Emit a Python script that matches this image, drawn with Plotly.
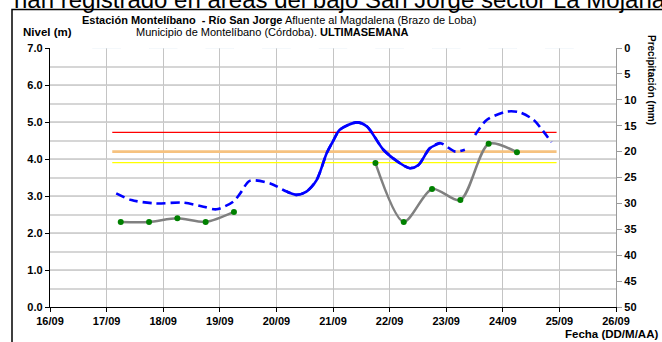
import plotly.graph_objects as go

# ---- data ----
day_ticks = [16, 17, 18, 19, 20, 21, 22, 23, 24, 25, 26]
day_labels = ["16/09", "17/09", "18/09", "19/09", "20/09", "21/09", "22/09",
              "23/09", "24/09", "25/09", "26/09"]

level_x = [17.17, 17.44, 17.86, 18.36, 18.71, 18.94, 19.24, 19.36, 19.53, 19.89,
           20.18, 20.36, 20.53, 20.71, 20.89, 21.0, 21.12, 21.42, 21.6, 21.89,
           22.18, 22.36, 22.51, 22.71, 22.89, 23.16, 23.33, 23.42,
           23.51, 23.72, 24.07, 24.3, 24.54, 24.72, 24.86]
level_y = [3.07, 2.89, 2.80, 2.82, 2.71, 2.64, 2.85, 3.07, 3.41, 3.34,
           3.12, 3.03, 3.12, 3.43, 4.16, 4.48, 4.79, 4.99, 4.88, 4.25,
           3.89, 3.75, 3.84, 4.29, 4.43, 4.20, 4.25, None,
           4.65, 5.06, 5.28, 5.26, 5.06, 4.74, 4.45]

obs_x = [17.25, 17.75, 18.25, 18.75, 19.25, 19.75, 21.75, 22.25, 22.75, 23.25, 23.75, 24.25]
obs_y = [2.30, 2.30, 2.40, 2.30, 2.57, None, 3.89, 2.30, 3.19, 2.89, 4.41, 4.18]

precip_x = [17, 18, 19, 20, 21, 22, 23, 24, 25]
precip_mm = [0, 0, 0, 0, 0, 0, 0, 0, 0]

thr_x = [17.1, 24.95]
thr_red = 4.72
thr_orange = 4.20
thr_yellow = 3.90

FONT = "Liberation Sans, Arial, sans-serif"

fig = go.Figure()

# precipitation (none recorded)
fig.add_trace(go.Bar(x=precip_x, y=precip_mm, yaxis="y2", marker_color="#4f81bd",
                     showlegend=False, hoverinfo="skip"))

# thresholds
for val, col, w in [(thr_red, "#ff0000", 1.3), (thr_orange, "#f6c27f", 2.6),
                    (thr_yellow, "#ffff00", 1.3)]:
    fig.add_trace(go.Scatter(x=thr_x, y=[val, val], mode="lines",
                             line=dict(color=col, width=w), showlegend=False))

# level (dashed with solid middle part)
fig.add_trace(go.Scatter(x=level_x, y=level_y, mode="lines",
                         line=dict(color="#0000ff", width=2.6, dash="9px,5px",
                                   shape="spline", smoothing=0.8),
                         connectgaps=False, showlegend=False))
s0, s1 = 10, 25
fig.add_trace(go.Scatter(x=level_x[s0:s1], y=level_y[s0:s1], mode="lines",
                         line=dict(color="#0000ff", width=2.6,
                                   shape="spline", smoothing=0.8),
                         showlegend=False))

# observed readings
fig.add_trace(go.Scatter(x=obs_x, y=obs_y, mode="lines+markers",
                         line=dict(color="#808080", width=2.5, shape="spline", smoothing=0.8),
                         marker=dict(color="#008000", size=6),
                         connectgaps=False, showlegend=False))

TICKF = dict(size=11)

fig.update_layout(
    width=662, height=342,
    margin=dict(l=50, r=46, t=48, b=35),
    paper_bgcolor="white", plot_bgcolor="white",
    font=dict(family=FONT, size=10, color="black"),
    bargap=0.5,
    xaxis=dict(range=[16, 26], tickvals=day_ticks,
               ticktext=["<b>%s</b>" % t for t in day_labels],
               showgrid=True, gridcolor="#c4c4c4", gridwidth=1,
               showline=True, linecolor="black", linewidth=1.3,
               ticks="outside", ticklen=4, tickcolor="black",
               zeroline=False, tickfont=TICKF),
    yaxis=dict(range=[0, 7], tickvals=[0, 1, 2, 3, 4, 5, 6, 7],
               ticktext=["<b>%.1f</b>" % v for v in [0, 1, 2, 3, 4, 5, 6, 7]],
               showgrid=True, gridcolor="#cfcfcf", gridwidth=1,
               minor=dict(dtick=0.5, tick0=0, showgrid=True, gridcolor="#d6d6d6", gridwidth=1.5),
               showline=True, linecolor="black", linewidth=1.3,
               ticks="outside", ticklen=4, tickcolor="black",
               zeroline=False, tickfont=TICKF),
    yaxis2=dict(range=[50, 0], overlaying="y", side="right", anchor="x",
                tickvals=list(range(0, 55, 5)),
                ticktext=["<b>%d</b>" % v for v in range(0, 55, 5)],
                showgrid=False, showline=True, linecolor="#9a9a9a", linewidth=1.3,
                ticks="outside", ticklen=5, tickcolor="#9a9a9a",
                zeroline=False, tickfont=TICKF),
)

# frame around the chart
fig.add_shape(type="rect", xref="paper", yref="paper",
              x0=(12 - 50) / 566, x1=1.2, y0=-0.3, y1=(307 - 9.5) / 259,
              line=dict(color="black", width=1.5), fillcolor="rgba(0,0,0,0)", layer="below")

ann = [
    dict(text="han registrado en áreas del bajo San Jorge sector La Mojana",
         x=(12 - 50) / 566, y=(307 - 6) / 259, xanchor="left", yanchor="bottom",
         font=dict(size=24), yshift=-8.5),
    dict(text="<b>Estación Montelíbano  - Río San Jorge</b> Afluente al Magdalena (Brazo de Loba)",
         x=(279 - 50) / 566, y=(307 - 20) / 259, xanchor="center", yanchor="middle",
         font=dict(size=11)),
    dict(text="Municipio de Montelíbano (Córdoba). <b>ULTIMASEMANA</b>",
         x=(272 - 50) / 566, y=(307 - 32) / 259, xanchor="center", yanchor="middle",
         font=dict(size=11)),
    dict(text="<b>Nivel (m)</b>", x=(21 - 50) / 566, y=(307 - 32) / 259,
         xanchor="left", yanchor="middle", font=dict(size=11.5)),
    dict(text="<b>Precipitación (mm)</b>", x=(652 - 50) / 566, y=(307 - 80) / 259,
         xanchor="center", yanchor="middle", textangle=90, font=dict(size=10)),
    dict(text="<b>Fecha (DD/M/AA)</b>", x=(660 - 50) / 566, y=(307 - 334) / 259,
         xanchor="right", yanchor="middle", font=dict(size=11.5)),
]
for a in ann:
    fig.add_annotation(xref="paper", yref="paper", showarrow=False, **a)

fig.write_html("out.html", config={"displayModeBar": False},
               post_script="document.body.style.margin='0';document.body.style.padding='0';")
